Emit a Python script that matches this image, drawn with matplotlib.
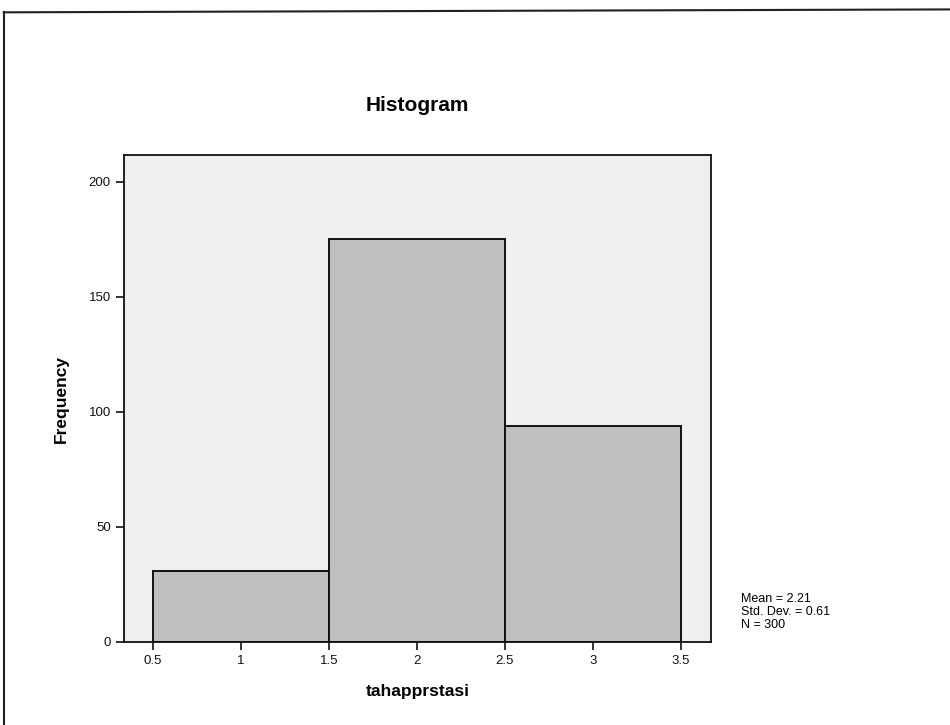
import matplotlib
matplotlib.use("Agg")
import matplotlib.pyplot as plt
from matplotlib.lines import Line2D

plt.rcParams['font.family'] = ['Liberation Sans', 'DejaVu Sans']

# histogram bins (tahapprstasi) and counts
bin_edges = [0.5, 1.5, 2.5, 3.5]
counts = [31, 175, 94]
x_ticks = [0.5, 1, 1.5, 2, 2.5, 3, 3.5]
x_tick_labels = ["0.5", "1", "1.5", "2", "2.5", "3", "3.5"]
y_ticks = [0, 50, 100, 150, 200]
stats_lines = ["Mean = 2.21", "Std. Dev. = 0.61", "N = 300"]

fig = plt.figure(figsize=(9.5, 7.25), dpi=100)
ax = fig.add_axes([0.1305, 0.1145, 0.6175, 0.6715])
ax.set_facecolor('#efefef')

widths = [bin_edges[i + 1] - bin_edges[i] for i in range(len(counts))]
ax.bar(bin_edges[:-1], counts, width=widths, align='edge',
       color='#bfbfbf', edgecolor='#111111', linewidth=1.4)

ax.set_xlim(0.335, 3.67)
ax.set_ylim(0, 211.5)
ax.set_xticks(x_ticks)
ax.set_xticklabels(x_tick_labels)
ax.set_yticks(y_ticks)
ax.tick_params(direction='out', length=6, width=1.2, labelsize=9.5, colors='#111111')
for s in ax.spines.values():
    s.set_linewidth(1.3)
    s.set_color('#111111')

ax.set_title("Histogram", fontsize=15, fontweight='bold', pad=32)
ax.set_xlabel("tahapprstasi", fontsize=12.5, fontweight='bold', labelpad=12)
ax.set_ylabel("Frequency", fontsize=12.5, fontweight='bold', labelpad=14)

fig.text(0.78, 0.156, "\n".join(stats_lines), fontsize=9, va='center',
         ha='left', linespacing=1.1)

# outer frame (left and top edges visible in scan)
fig.add_artist(Line2D([0.004, 0.004], [0.0, 0.983], color='#222222', lw=1.5))
fig.add_artist(Line2D([0.004, 1.0], [0.983, 0.987], color='#222222', lw=1.5))

fig.savefig("out.png", dpi=100)
